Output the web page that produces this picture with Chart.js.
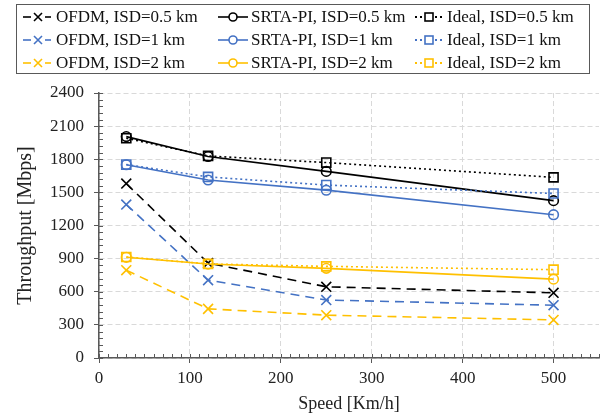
<!DOCTYPE html>
<html>
<head>
<meta charset="utf-8">
<script src="https://cdn.jsdelivr.net/npm/chart.js@4.4.1/dist/chart.umd.min.js"></script>
<style>
    body { margin: 0; background: #fff; }
    #wrap { position: relative; width: 612px; height: 419px; }
    #leyenda {
        position: absolute; left: 16px; top: 4px; width: 574px; height: 70px;
        border: 1px solid #595959; box-sizing: border-box;
        display: grid; grid-template-columns: 195px 196px 170px;
        grid-template-rows: repeat(3, 23px); padding: 0 0 0 6px;
        font-family: "Liberation Serif", serif; font-size: 17px; color: #111;
    }
    .item { display: flex; align-items: center; white-space: nowrap; }
    .item svg { margin-right: 3px; flex: none; }
</style>
</head>
<body>
<div id="wrap">
    <canvas id="chartThroughput" width="612" height="419"></canvas>
    <div id="leyenda"></div>
</div>
<script>
// Speeds [Km/h]
const velocidades = [30, 120, 250, 500];

// Throughput [Mbps]
const ofdm05 = [1580, 860, 645, 590];
const ofdm1 = [1390, 705, 525, 478];
const ofdm2 = [795, 445, 388, 345];
const srta05 = [2005, 1825, 1690, 1425];
const srta1 = [1750, 1612, 1520, 1298];
const srta2 = [912, 851, 812, 714];
const ideal05 = [1990, 1830, 1770, 1636];
const ideal1 = [1752, 1640, 1566, 1490];
const ideal2 = [915, 852, 830, 800];

// Axis ticks
const ticksX = [0, 100, 200, 300, 400, 500];
const ticksY = [0, 300, 600, 900, 1200, 1500, 1800, 2100, 2400];

const NEGRO = '#000000';
const AZUL = '#4472C4';
const AMARILLO = '#FFC000';

const serie = (label, data, color, tipo) => {
    const estilos = {
        ofdm: { dash: [9, 6], punto: 'crossRot', radio: 7 },
        srta: { dash: [], punto: 'circle', radio: 4.8 },
        ideal: { dash: [2, 3], punto: 'rect', radio: 6.4 }
    };
    const e = estilos[tipo];
    return {
        label: label,
        data: data.map((y, i) => ({ x: velocidades[i], y: y })),
        borderColor: color,
        backgroundColor: 'rgba(0,0,0,0)',
        borderWidth: 1.6,
        borderDash: e.dash,
        pointStyle: e.punto,
        pointRadius: e.radio,
        pointBorderWidth: 1.6,
        pointBorderColor: color,
        pointBackgroundColor: 'rgba(0,0,0,0)',
        tension: 0
    };
};

const datasets = [
    serie('OFDM, ISD=0.5 km', ofdm05, NEGRO, 'ofdm'),
    serie('SRTA-PI, ISD=0.5 km', srta05, NEGRO, 'srta'),
    serie('Ideal, ISD=0.5 km', ideal05, NEGRO, 'ideal'),
    serie('OFDM, ISD=1 km', ofdm1, AZUL, 'ofdm'),
    serie('SRTA-PI, ISD=1 km', srta1, AZUL, 'srta'),
    serie('Ideal, ISD=1 km', ideal1, AZUL, 'ideal'),
    serie('OFDM, ISD=2 km', ofdm2, AMARILLO, 'ofdm'),
    serie('SRTA-PI, ISD=2 km', srta2, AMARILLO, 'srta'),
    serie('Ideal, ISD=2 km', ideal2, AMARILLO, 'ideal')
];
// draw ideal lines first, so solid lines sit on top
const ordenDibujo = [7, 4, 1, 9, 6, 3, 8, 5, 2];
datasets.forEach((d, i) => { d.order = ordenDibujo[i]; });

// Minor ticks on the inside of both axes
const marcasMenores = {
    id: 'marcasMenores',
    afterDraw(chart) {
        const { ctx, chartArea: a, scales: { x, y } } = chart;
        ctx.save();
        ctx.strokeStyle = '#595959';
        ctx.lineWidth = 1;
        ctx.beginPath();
        for (let v = 0; v <= 550; v += 10) {
            const px = Math.round(x.getPixelForValue(v)) + 0.5;
            ctx.moveTo(px, a.bottom);
            ctx.lineTo(px, a.bottom - 4);
        }
        for (let v = 0; v <= 2400; v += 60) {
            const py = Math.round(y.getPixelForValue(v)) + 0.5;
            ctx.moveTo(a.left, py);
            ctx.lineTo(a.left + 4, py);
        }
        ctx.stroke();
        ctx.restore();
    }
};

const fuenteTicks = { family: '"Liberation Serif", serif', size: 17 };

const ctx = document.getElementById('chartThroughput').getContext('2d');
const chart = new Chart(ctx, {
    type: 'line',
    data: { datasets: datasets },
    options: {
        responsive: false,
        animation: false,
        layout: { padding: { top: 93, right: 13, left: 14, bottom: 4 } },
        plugins: {
            legend: { display: false },
            tooltip: { enabled: false }
        },
        scales: {
            x: {
                type: 'linear',
                min: 0,
                max: 550,
                afterBuildTicks: (s) => { s.ticks = ticksX.map(v => ({ value: v })); },
                ticks: { font: fuenteTicks, color: '#222', padding: 5, maxRotation: 0, callback: (v) => String(v) },
                grid: { color: '#d9d9d9', tickColor: '#595959', tickLength: 5 },
                border: { color: '#595959', width: 1.5, dash: [5, 3] },
                title: {
                    display: true, text: 'Speed [Km/h]', color: '#222',
                    font: { family: '"Liberation Serif", serif', size: 18 },
                    padding: { top: 0, bottom: 0 }
                }
            },
            y: {
                min: 0,
                max: 2400,
                afterBuildTicks: (s) => { s.ticks = ticksY.map(v => ({ value: v })); },
                ticks: { font: fuenteTicks, color: '#222', padding: 10, callback: (v) => String(v) },
                grid: { color: '#d9d9d9', tickColor: '#595959', tickLength: 5 },
                border: { color: '#595959', width: 1.5, dash: [5, 3] },
                title: {
                    display: true, text: 'Throughput [Mbps]', color: '#222',
                    font: { family: '"Liberation Serif", serif', size: 20 },
                    padding: { top: 0, bottom: 2 }
                }
            }
        }
    },
    plugins: [marcasMenores]
});

// HTML legend in three columns, built from the datasets
const muestra = (d) => {
    const c = d.borderColor;
    let marca = '';
    if (d.pointStyle === 'crossRot') {
        marca = `<path d="M11 4 L19 12 M19 4 L11 12" stroke="${c}" stroke-width="1.6"/>`;
    } else if (d.pointStyle === 'circle') {
        marca = `<circle cx="15" cy="8" r="4" stroke="${c}" stroke-width="1.6" fill="#fff"/>`;
    } else {
        marca = `<rect x="11" y="4" width="8" height="8" stroke="${c}" stroke-width="1.6" fill="#fff"/>`;
    }
    const linea = d.pointStyle === 'rect'
        ? `<line x1="1" y1="8" x2="29" y2="8" stroke="${c}" stroke-width="1.8" stroke-dasharray="2,3"/>`
        : d.pointStyle === 'crossRot'
            ? `<line x1="0" y1="8" x2="8" y2="8" stroke="${c}" stroke-width="1.6"/><line x1="22" y1="8" x2="28" y2="8" stroke="${c}" stroke-width="1.6"/>`
            : `<line x1="0" y1="8" x2="30" y2="8" stroke="${c}" stroke-width="1.6"/>`;
    return `<svg width="30" height="16">${linea}${marca}</svg>`;
};

document.getElementById('leyenda').innerHTML = datasets
    .map(d => `<div class="item">${muestra(d)}<span>${d.label}</span></div>`)
    .join('');
</script>
</body>
</html>
